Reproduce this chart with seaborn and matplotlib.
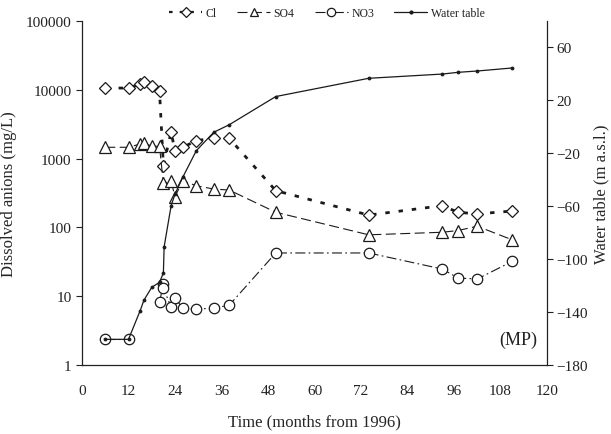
import numpy as np
import pandas as pd
import seaborn as sns
import matplotlib
matplotlib.use("Agg")
import matplotlib.pyplot as plt
from matplotlib.lines import Line2D
from matplotlib.ticker import FixedLocator, FixedFormatter

# Sampling times (months from 1996)
months_ion = [6, 12, 15, 16, 18, 20, 21, 23, 24, 26, 29.5, 34, 38, 50, 74, 93, 97, 102, 111]
cl_mgL = [10600, 10600, 12100, 13000, 11400, 9600, 790, 2440, 1280, 1460,
          1820, 1990, 1970, 342, 151, 207, 166, 157, 173]
so4_mgL = [1460, 1460, 1630, 1690, 1510, 1510, 437, 468, 279, 478,
           403, 361, 349, 166, 78, 85, 90, 104, 66]

# NO3 record has a gap between the first two samples and the rest
months_no3 = [6, 12, 20, 21, 21, 23, 24, 26, 29.5, 34, 38, 50, 74, 93, 97, 102, 111]
no3_mgL = [2.36, 2.36, 8.15, 15.0, 13.0, 7.0, 9.4, 6.7, 6.5, 6.7, 7.4,
           42.5, 42.5, 24.8, 18.4, 17.8, 32]
no3_run = [1, 1, 2, 2, 2, 2, 2, 2, 2, 2, 2, 2, 2, 2, 2, 2, 2]

months_wt = [6, 12, 15, 16, 18, 20, 21, 21.2, 23, 24, 26, 29.5, 34, 38, 50, 74, 93, 97, 102, 111]
water_table_m = [-160.6, -160.6, -139.0, -130.9, -121.3, -117.5, -110.5, -90.6, -59.6, -50.8,
                 -38.1, -18.0, -4.1, 1.6, 22.9, 36.7, 39.9, 41.2, 42.2, 44.5]

x_ticks = [0, 12, 24, 36, 48, 60, 72, 84, 96, 108, 120]
left_ticks = [1, 10, 100, 1000, 10000, 100000]
left_labels = ["1", "10", "100", "1000", "10000", "100000"]
right_ticks = [-180, -140, -100, -60, -20, 20, 60]

sns.set_theme(style="white")
plt.rcParams["font.family"] = ["Liberation Serif", "DejaVu Serif"]
plt.rcParams["axes.edgecolor"] = "#222222"
plt.rcParams["text.color"] = "#222222"
plt.rcParams["xtick.color"] = "#222222"
plt.rcParams["ytick.color"] = "#222222"

ink = "#1a1a1a"
fig = plt.figure(figsize=(6.11, 4.35), dpi=100)
ax = fig.add_axes([82 / 611, 1 - 366 / 435, (547 - 82) / 611, (366 - 22) / 435])
ax2 = ax.twinx()

cl_style = dict(color=ink, lw=2.0, linestyle=(0, (1.6, 3.2)), marker="D", ms=5.8,
                mfc="white", mec=ink, mew=0.9)
so4_style = dict(color=ink, lw=0.8, linestyle=(0, (9, 4)), marker="^", ms=8,
                 mfc="white", mec=ink, mew=0.9)
no3_style = dict(color=ink, lw=0.8, linestyle=(0, (9, 3, 1.5, 3)), marker="o", ms=7.5,
                 mfc="white", mec=ink, mew=0.9)
wt_style = dict(color=ink, lw=0.9, linestyle="-", marker="o", ms=2.0,
                mfc=ink, mec=ink)

ion_df = pd.DataFrame({"month": months_ion, "Cl": cl_mgL, "SO4": so4_mgL})
no3_df = pd.DataFrame({"month": months_no3, "NO3": no3_mgL, "run": no3_run})
wt_df = pd.DataFrame({"month": months_wt, "wt": water_table_m})

sns.lineplot(data=ion_df, x="month", y="Cl", ax=ax, estimator=None, sort=False, **cl_style)
sns.lineplot(data=ion_df, x="month", y="SO4", ax=ax, estimator=None, sort=False, **so4_style)
sns.lineplot(data=no3_df, x="month", y="NO3", units="run", ax=ax, estimator=None,
             sort=False, **no3_style)
sns.lineplot(data=wt_df, x="month", y="wt", ax=ax2, estimator=None, sort=False, **wt_style)

ax.set_yscale("log")
ax.set_xlim(0, 120)
ax.set_ylim(1, 100000)
ax.xaxis.set_major_locator(FixedLocator(x_ticks))
ax.yaxis.set_major_locator(FixedLocator(left_ticks))
ax.yaxis.set_major_formatter(FixedFormatter(left_labels))
ax.yaxis.set_minor_locator(FixedLocator([]))
ax2.set_ylim(-180, 80)
ax2.yaxis.set_major_locator(FixedLocator(right_ticks))

for a in (ax, ax2):
    a.spines["top"].set_visible(False)
    a.tick_params(direction="out", length=4, width=0.8, labelsize=11, pad=3.5)
    for s in a.spines.values():
        s.set_linewidth(0.9)
ax.tick_params(axis="x", pad=10)
ax2.tick_params(axis="y", pad=3)
ax.spines["right"].set_visible(False)
ax2.spines["left"].set_visible(False)
ax2.spines["bottom"].set_visible(False)

ax.set_xlabel("Time (months from 1996)", fontsize=12)
ax.set_ylabel("Dissolved anions (mg/L)", fontsize=12)
ax2.set_ylabel("Water table (m a.s.l.)", fontsize=12)
ax.xaxis.set_label_coords(0.5, (366 - 414) / 344)
ax.yaxis.set_label_coords((17 - 82) / 465, 0.5)
ax2.yaxis.set_label_coords((593 - 82) / 465, 0.5)

ax.text(0.978, 0.075, "(MP)", transform=ax.transAxes, ha="right", va="center", fontsize=13)

handles = [
    Line2D([], [], **{**cl_style, "ms": 5, "lw": 1.6}),
    Line2D([], [], **{**so4_style, "ms": 6}),
    Line2D([], [], **{**no3_style, "ms": 6}),
    Line2D([], [], **wt_style),
]
fig.legend(handles, ["Cl", "SO4", "NO3", "Water table"], loc="center",
           bbox_to_anchor=(327 / 611, 1 - 14 / 435), ncol=4, frameon=False,
           fontsize=8.5, handlelength=2.8, columnspacing=1.7, handletextpad=0.3)

fig.savefig("out.png", dpi=100, facecolor="white")
